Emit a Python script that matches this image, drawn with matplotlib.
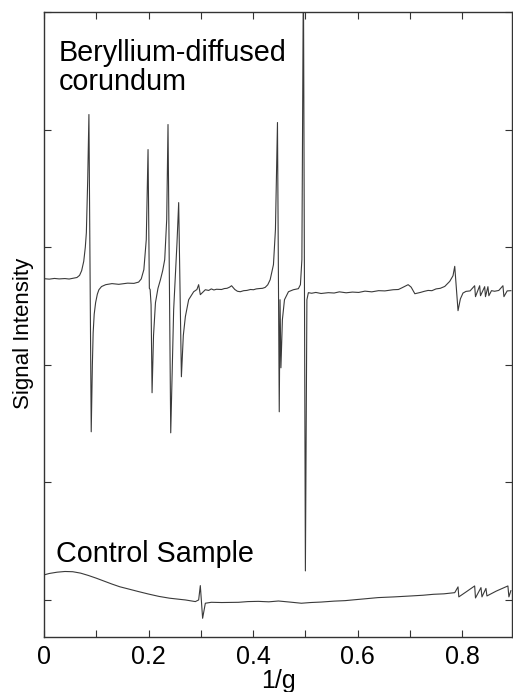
import matplotlib
matplotlib.use("Agg")
import matplotlib.pyplot as plt

plt.rcParams['font.family'] = ['Liberation Sans', 'DejaVu Sans']

# Be-diffused corundum trace (1/g, signal)
be_x = [0.000, 0.010, 0.020, 0.029, 0.040, 0.048, 0.056, 0.063, 0.068, 0.072,
        0.076, 0.079, 0.081, 0.0836, 0.0859, 0.0903, 0.0925, 0.094, 0.096, 0.0987,
        0.102, 0.105, 0.110, 0.118, 0.130, 0.143, 0.160, 0.172, 0.181, 0.186,
        0.191, 0.1956, 0.199, 0.2015, 0.2030, 0.2048, 0.2067, 0.2095, 0.2132, 0.218,
        0.2227, 0.227, 0.2309, 0.2347, 0.2372, 0.2424, 0.248, 0.2544, 0.2576, 0.2628,
        0.2665, 0.2704, 0.2767, 0.2863, 0.2925, 0.2958, 0.299, 0.3086, 0.315, 0.320,
        0.325, 0.330, 0.3397, 0.345, 0.350, 0.355, 0.3588, 0.3650, 0.3700, 0.3754,
        0.382, 0.388, 0.395, 0.4008, 0.406, 0.412, 0.418, 0.4231, 0.428, 0.4326,
        0.4389, 0.4427, 0.4466, 0.4500, 0.4515, 0.4532, 0.456, 0.460, 0.4676, 0.477,
        0.4866, 0.4905, 0.4933, 0.4962, 0.5000, 0.5029, 0.5057, 0.512, 0.520, 0.530,
        0.5439, 0.555, 0.565, 0.578, 0.590, 0.602, 0.614, 0.627, 0.640, 0.652,
        0.668, 0.678, 0.685, 0.6966, 0.7023, 0.7094, 0.715, 0.720, 0.727, 0.7347,
        0.742, 0.750, 0.758, 0.7666, 0.7761, 0.7824, 0.7857, 0.7920, 0.7965, 0.8015,
        0.8073, 0.815, 0.8238, 0.8254, 0.8334, 0.8350, 0.8430, 0.8445, 0.8492, 0.8510,
        0.856, 0.862, 0.870, 0.8779, 0.8798, 0.886, 0.8931]
be_y = [2.732, 2.728, 2.734, 2.730, 2.733, 2.729, 2.736, 2.742, 2.760, 2.800,
        2.880, 3.000, 3.123, 3.574, 4.128, 1.430, 2.000, 2.272, 2.430, 2.528,
        2.600, 2.638, 2.665, 2.681, 2.690, 2.684, 2.694, 2.692, 2.703, 2.730,
        2.809, 3.064, 3.830, 2.650, 2.640, 2.511, 1.762, 2.250, 2.528, 2.650,
        2.723, 2.800, 2.894, 3.234, 4.043, 1.421, 2.468, 3.038, 3.379, 1.898,
        2.250, 2.409, 2.553, 2.621, 2.640, 2.681, 2.596, 2.638, 2.632, 2.645,
        2.636, 2.642, 2.640, 2.648, 2.650, 2.660, 2.672, 2.640, 2.625, 2.621,
        2.630, 2.632, 2.640, 2.638, 2.645, 2.648, 2.650, 2.658, 2.680, 2.723,
        2.851, 3.149, 4.060, 1.600, 2.553, 1.974, 2.383, 2.553, 2.621, 2.638,
        2.647, 2.681, 2.894, 5.400, 0.247, 2.553, 2.613, 2.608, 2.615, 2.606,
        2.613, 2.610, 2.620, 2.612, 2.618, 2.615, 2.626, 2.620, 2.630, 2.628,
        2.638, 2.640, 2.655, 2.681, 2.660, 2.604, 2.610, 2.615, 2.624, 2.632,
        2.630, 2.645, 2.650, 2.666, 2.709, 2.757, 2.837, 2.460, 2.560, 2.610,
        2.624, 2.628, 2.672, 2.579, 2.672, 2.587, 2.664, 2.579, 2.664, 2.587,
        2.630, 2.625, 2.632, 2.672, 2.579, 2.628, 2.630]

# control sample trace
ctrl_x = [0.000, 0.010, 0.025, 0.040, 0.055, 0.070, 0.085, 0.100, 0.115, 0.130,
          0.145, 0.160, 0.180, 0.200, 0.220, 0.240, 0.260, 0.2704, 0.2895, 0.2958,
          0.299, 0.3034, 0.3086, 0.320, 0.340, 0.3721, 0.390, 0.410, 0.430, 0.4485,
          0.470, 0.4924, 0.510, 0.530, 0.555, 0.5758, 0.595, 0.610, 0.6393, 0.670,
          0.7023, 0.725, 0.745, 0.765, 0.7857, 0.7920, 0.7935, 0.808, 0.8238, 0.8254,
          0.8359, 0.8378, 0.8454, 0.8473, 0.865, 0.8874, 0.8893, 0.8931]
ctrl_y = [0.213, 0.225, 0.236, 0.242, 0.240, 0.228, 0.208, 0.185, 0.160, 0.135,
          0.112, 0.095, 0.072, 0.050, 0.030, 0.015, 0.005, 0.000, -0.014, 0.000,
          0.122, -0.156, -0.028, -0.020, -0.022, -0.020, -0.014, -0.012, -0.016, -0.009,
          -0.018, -0.028, -0.022, -0.018, -0.010, -0.006, 0.002, 0.008, 0.020, 0.026,
          0.034, 0.040, 0.048, 0.052, 0.062, 0.111, 0.026, 0.070, 0.119, 0.017,
          0.105, 0.026, 0.098, 0.034, 0.075, 0.119, 0.026, 0.079]

x_major = [0, 0.2, 0.4, 0.6, 0.8]
x_labels = ['0', '0.2', '0.4', '0.6', '0.8']
x_minor = [0.1, 0.3, 0.5, 0.7]
y_ticks = [0, 1, 2, 3, 4, 5]

fig = plt.figure(figsize=(5.13, 6.92), dpi=100)
ax = fig.add_axes([0.0858, 0.0795, 0.912, 0.9032])

ax.plot(be_x, be_y, color='#3a3a3a', lw=0.8)
ax.plot(ctrl_x, ctrl_y, color='#3a3a3a', lw=0.8)

ax.set_xlim(0, 0.895)
ax.set_ylim(-0.315, 5.0)

ax.set_xticks(x_major)
ax.set_xticklabels(x_labels)
ax.set_xticks(x_minor, minor=True)
ax.set_yticks(y_ticks)
ax.set_yticklabels([])
ax.tick_params(which='both', direction='in', length=5, width=0.8,
               top=True, right=True, labelsize=18, color='#333333', pad=6)

for s in ax.spines.values():
    s.set_color('#333333')
    s.set_linewidth(1.0)

ax.set_xlabel('1/g', fontsize=18, labelpad=0)
ax.set_ylabel('Signal Intensity', fontsize=16)
ax.yaxis.set_label_coords(-0.022, 0.485)

ax.text(0.0286, 4.587, 'Beryllium-diffused', fontsize=20.7, va='baseline', ha='left')
ax.text(0.0286, 4.340, 'corundum', fontsize=20.7, va='baseline', ha='left')
ax.text(0.023, 0.323, 'Control Sample', fontsize=20.7, va='baseline', ha='left')

fig.savefig('out.png', dpi=100)
